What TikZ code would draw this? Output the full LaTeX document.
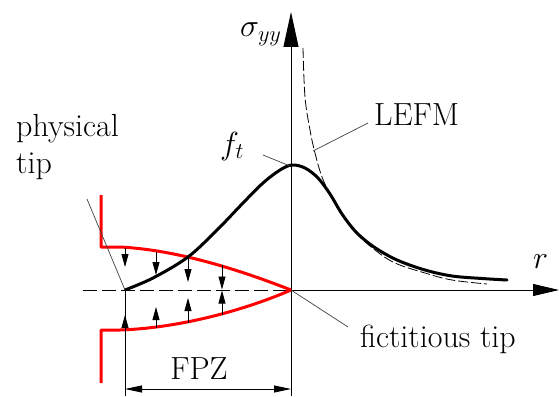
\documentclass[tikz,border=0pt]{standalone}
\usepackage{fix-cm}
\usepackage{fontspec}
\usetikzlibrary{arrows.meta}
\tikzset{
  lbl/.style={inner sep=0pt, font=\fontsize{32}{37}\selectfont},
  axisline/.style={line width=0.9pt, black},
  leader/.style={line width=0.7pt, black!75},
  crack/.style={line width=3pt, red, line join=round},
  stress/.style={line width=3pt, black, line cap=round, line join=round},
  lefm/.style={line width=0.8pt, black, dash pattern=on 10pt off 3pt},
  cohar/.style={line width=0.8pt, -{Triangle[length=13pt,width=7pt]}},
  dimar/.style={line width=0.8pt, {Triangle[length=17pt,width=7pt]}-{Triangle[length=17pt,width=7pt]}},
}
\begin{document}
\begin{tikzpicture}[x=1pt,y=-1pt]
\useasboundingbox (0,0) rectangle (559,396);
% named points
\coordinate (O) at (291,290);
\coordinate (P) at (125,290);
\coordinate (Ybot) at (291,396);
\coordinate (Ytop) at (291,12);
\coordinate (Xend) at (559,290);
\coordinate (Xstart) at (83,290);
\coordinate (Pbot) at (125,396);
\coordinate (peak) at (290,166);
\coordinate (lefmpt) at (313,151);
\coordinate (ptl) at (87,199);
\coordinate (ftl) at (263,155);
\coordinate (lefml) at (368,123);
\coordinate (fictl) at (348,327);
\coordinate (dimL) at (125,389);
\coordinate (dimR) at (291,389);

% axes
\draw[axisline, -{Triangle[length=35pt,width=15pt]}] (Ybot) -- (Ytop);
\draw[axisline, -{Triangle[length=26pt,width=12pt]}] (O) -- (Xend);
\draw[axisline, dash pattern=on 14pt off 5pt] (Xstart) -- (O);

% LEFM dashed curve
\draw[lefm] plot[smooth, tension=0.6] coordinates {(303,48) (305,97) (310,130) (315,153) (322,177) (331,196) (342,214) (356,233) (375,250) (395,263) (425,273) (452,280) (487,284)};

% crack faces
\draw[crack] (101,195) -- (101,247) -- (120,247) .. controls (180,250) and (245,272) .. (O);
\draw[crack] (101,383) -- (101,330) -- (120,330) .. controls (180,328) and (245,310) .. (O);

% stress curve
\draw[stress] plot[smooth, tension=0.55] coordinates {(125,290) (153,278) (188,257) (218,229) (243,203) (263,183) (280,170) (292,165) (305,168) (318,178) (330,194) (342,214) (356,232) (374,247) (397,260) (425,270) (452,276) (482,278.5) (507,280)};

% cohesive force arrows
\draw[cohar] (125,248) -- (125,267);
\draw[cohar] (156,252) -- (156,275);
\draw[cohar] (188,257) -- (188,282);
\draw[cohar] (222,265) -- (222,289.5);
\draw[cohar] (125,330) -- (125,315);
\draw[cohar] (156,328) -- (156,307);
\draw[cohar] (188,323) -- (188,298);
\draw[cohar] (222,315) -- (222,290.5);

% dimension FPZ
\draw[line width=0.8pt] (P) -- (Pbot);
\draw[dimar] (dimL) -- (dimR);
\node[lbl, anchor=base] (fpz) at (199,379) {FPZ};

% labels
\node[lbl, anchor=base west, align=left] (phys) at (16,173) {physical\\tip};
\node[lbl, anchor=base west] (fict) at (360,347) {fictitious tip};
\node[lbl, anchor=base west] (lefmlab) at (374,125) {LEFM};
\node[lbl, anchor=base west] (sig) at (240,37) {$\sigma_{yy}$};
\node[lbl, anchor=base west] (ft) at (220,154) {$f_t$};
\node[lbl, anchor=base west] (rl) at (533,268) {$r$};

% leader lines
\draw[leader] (ptl) -- (P);
\draw[leader] (ftl) -- (peak);
\draw[leader] (lefml) -- (lefmpt);
\draw[leader] (O) -- (fictl);
\end{tikzpicture}
\end{document}
